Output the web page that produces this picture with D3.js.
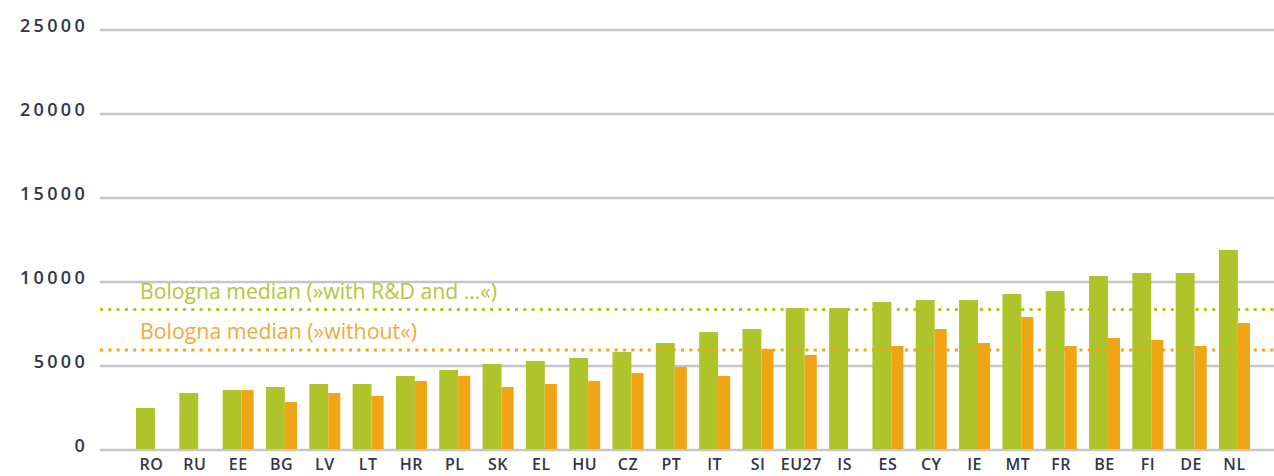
<!DOCTYPE html>
<html>
<head>
<meta charset="utf-8">
<script src="https://cdn.jsdelivr.net/npm/d3@7"></script>
<style>
  body { margin: 0; background: #fff; }
  svg { display: block; }
  .y.axis text { font-family: "Open Sans", sans-serif; font-size: 18px; fill: #34344a; letter-spacing: 3.3px; font-weight: 600; }
  .x.labels text { font-family: "Open Sans", sans-serif; font-size: 16px; fill: #34344a; letter-spacing: 0.5px; font-weight: 600; }
  .median text { font-family: "Open Sans", sans-serif; font-size: 21px; }
</style>
</head>
<body>
<script>
var countries = ["RO", "RU", "EE", "BG", "LV", "LT", "HR", "PL", "SK", "EL", "HU", "CZ", "PT",
                 "IT", "SI", "EU27", "IS", "ES", "CY", "IE", "MT", "FR", "BE", "FI", "DE", "NL"];
var withRD = [2470, 3360, 3540, 3720, 3900, 3900, 4380, 4730, 5090, 5270, 5450, 5800, 6340,
              6990, 7170, 8420, 8420, 8780, 8900, 8900, 9260, 9440, 10330, 10510, 10510, 11880];
var withoutRD = [null, null, 3540, 2830, 3360, 3190, 4080, 4380, 3720, 3900, 4080, 4550, 4910,
                 4380, 5980, 5630, null, 6160, 7170, 6340, 7890, 6160, 6640, 6520, 6160, 7530];
var yTicks = [0, 5000, 10000, 15000, 20000, 25000];
var medianWith = 8330;
var medianWithout = 5920;
var medianLabels = ["Bologna median (»with R&D and …«)", "Bologna median (»without«)"];

var width = 1274, height = 476;
var green = "#afc42a", orange = "#f0a514";

var svg = d3.select("body").append("svg")
        .attr("width", width)
        .attr("height", height);

var x = d3.scaleBand()
        .domain(countries)
        .range([136, 1250])
        .paddingInner(0.284)
        .paddingOuter(0);

var y = d3.scaleLinear()
        .domain([0, 25000])
        .range([449.5, 29.5]);

var greenW = x.bandwidth() * 0.61;

// grid + tick labels
var yAxis = d3.axisLeft(y)
        .tickValues(yTicks)
        .tickFormat(d3.format("d"))
        .tickSize(-(width - 100))
        .tickPadding(12);

svg.append("g")
        .attr("class", "y axis")
        .attr("transform", "translate(100,0)")
        .call(yAxis)
        .call(function(g) { g.select(".domain").remove(); })
        .call(function(g) {
            g.selectAll(".tick line").attr("stroke", "#c6c6c6").attr("stroke-width", 2.5);
            g.selectAll(".tick text").attr("dy", "0.1em");
        });

var data = countries.map(function(c, i) {
    return {country: c, a: withRD[i], b: withoutRD[i]};
});

var groups = svg.append("g")
        .selectAll("g")
        .data(data)
        .join("g")
        .attr("transform", function(d) { return "translate(" + x(d.country) + ",0)"; });

groups.append("rect")
        .attr("x", 0)
        .attr("width", greenW)
        .attr("y", function(d) { return y(d.a); })
        .attr("height", function(d) { return y(0) - y(d.a) - 0.5; })
        .attr("fill", green);

groups.filter(function(d) { return d.b != null; })
        .append("rect")
        .attr("x", greenW)
        .attr("width", x.bandwidth() - greenW)
        .attr("y", function(d) { return y(d.b); })
        .attr("height", function(d) { return y(0) - y(d.b) - 0.5; })
        .attr("fill", orange);

// country labels
svg.append("g")
        .attr("class", "x labels")
        .selectAll("text")
        .data(countries)
        .join("text")
        .attr("x", function(d) { return x(d) + x.bandwidth() / 2; })
        .attr("y", 470)
        .attr("text-anchor", "middle")
        .text(function(d) { return d; });

// median lines
var medians = [
    {value: medianWith, color: green, label: medianLabels[0], len: 357, textColor: "#b5c53c"},
    {value: medianWithout, color: orange, label: medianLabels[1], len: 277, textColor: "#f0aa3a"}
];

var med = svg.append("g")
        .attr("class", "median")
        .selectAll("g")
        .data(medians)
        .join("g");

med.append("line")
        .attr("x1", 100)
        .attr("x2", width)
        .attr("y1", function(d) { return y(d.value); })
        .attr("y2", function(d) { return y(d.value); })
        .attr("stroke", function(d) { return d.color; })
        .attr("stroke-width", 3)
        .attr("stroke-dasharray", "3,5.3");

med.append("text")
        .attr("x", 140)
        .attr("y", function(d) { return y(d.value) - 11; })
        .attr("fill", function(d) { return d.textColor; })
        .attr("textLength", function(d) { return d.len; })
        .attr("lengthAdjust", "spacingAndGlyphs")
        .text(function(d) { return d.label; });
</script>
</body>
</html>
